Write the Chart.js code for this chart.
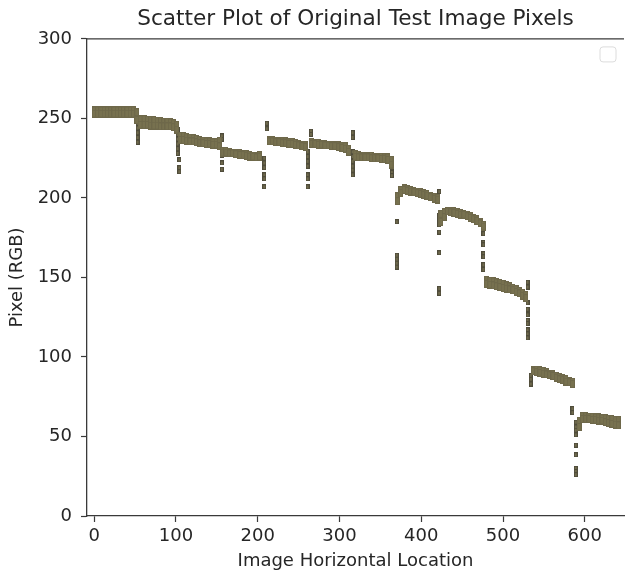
<!DOCTYPE html>
<html>
<head>
<meta charset="utf-8">
<script src="https://cdn.jsdelivr.net/npm/chart.js@4.4.1/dist/chart.umd.min.js"></script>
<style>
  html, body { margin: 0; padding: 0; background: #fff; }
  #wrap { width: 629px; height: 578px; }
</style>
</head>
<body>
<div id="wrap"><canvas id="pixelChart"></canvas></div>
<script>
// sampled image columns, with the highest and lowest pixel value seen in each column
const columns = [
    0, 4, 8, 12, 16, 20, 24, 28, 32, 36, 40, 44, 48, 52, 56, 61, 65, 69, 73, 77,
    81, 85, 89, 93, 97, 101, 105, 109, 113, 117, 121, 125, 129, 133, 137, 141, 145, 149, 153, 157,
    161, 165, 169, 173, 178, 182, 186, 190, 194, 198, 202, 206, 210, 214, 218, 222, 226, 230, 234, 238,
    242, 246, 250, 254, 258, 262, 266, 270, 274, 278, 282, 286, 290, 294, 299, 303, 307, 311, 315, 319,
    323, 327, 331, 335, 339, 343, 347, 351, 355, 359, 363, 367, 371, 375, 379, 383, 387, 391, 395, 399,
    403, 407, 411, 416, 420, 424, 428, 432, 436, 440, 444, 448, 452, 456, 460, 464, 468, 472, 476, 480,
    484, 488, 492, 496, 500, 504, 508, 512, 516, 520, 524, 528, 532, 537, 541, 545, 549, 553, 557, 561,
    565, 569, 573, 577, 581, 585, 589, 593, 597, 601, 605, 609, 613, 617, 621, 625, 629, 633, 637, 641
];

const upperValues = [
    255, 255, 255, 255, 255, 255, 255, 255, 255, 255, 255, 255, 255, 254,
    249.5, 249.5, 249, 249, 249, 248.5, 248.5, 248, 248, 247.5, 247, 246,
    239, 239, 238.5, 238, 237.5, 237, 236.5, 236, 235.5, 235.5, 235, 235, 236,
    229.5, 229.5, 229, 228.5, 228.5, 228, 227.5, 227.5, 227, 226.5, 226.5, 227,
    null, null,
    236.5, 236.5, 236, 236, 235.5, 235.5, 235, 235, 234.5, 234, 233.5, 233,
    null,
    235, 234.5, 234.5, 234, 234, 233.5, 233.5, 233, 233, 232.5, 232.5, 231,
    null,
    227.5, 227, 226.5, 226.5, 226.5, 226.5, 226, 226, 226, 225.5, 225.5, 224,
    null,
    201, 205, 206, 205.5, 205, 204.5, 204, 203.5, 203, 202.5, 201.5, 200.5, 200,
    190, 191, 192, 192, 191.5, 191, 190.5, 190, 189.5, 188.5, 187.5, 186.5, 185, 183,
    148.5, 148, 147.5, 147, 146.5, 146, 145, 144.5, 143.5, 142.5, 141.5, 140.5, 139,
    null,
    92, 92, 91.5, 91, 90.5, 89.5, 89, 88, 87.5, 86.5, 86, 85, 84.5,
    null,
    60, 63, 63, 62.5, 62.5, 62, 62, 61.5, 61.5, 61, 61, 60.5, 60.5
];

const lowerValues = [
    253, 253, 253, 253, 253, 253, 253, 253, 253, 253, 253, 253, 253, 249,
    246, 246, 246, 245.5, 245.5, 245.5, 245, 245, 245, 245, 244.5, 243,
    236.5, 236.5, 236, 235.5, 235.5, 235, 234.5, 234.5, 234, 234, 233.5, 233.5, 232.5,
    228.5, 228.5, 228, 228, 227.5, 227, 227, 226.5, 226, 226, 225.5, 226,
    null, null,
    235.5, 235.5, 235, 235, 234.5, 234.5, 234, 234, 233.5, 233, 232.5, 232,
    null,
    234, 234, 233.5, 233.5, 233, 233, 232.5, 232.5, 232, 231.5, 231, 229,
    null,
    226, 225.5, 225.5, 225.5, 225.5, 225, 225, 225, 224.5, 224.5, 224, 221,
    null,
    198, 203, 205, 204.5, 204, 203.5, 203, 202.5, 202, 201.5, 200.5, 199.5, 199,
    185, 188, 191.5, 191, 190.5, 190, 189.5, 189.5, 188.5, 187.5, 186.5, 185.5, 184, 182,
    146, 145.5, 145, 144.5, 144, 143.5, 143, 142.5, 142, 141, 140, 138.5, 137,
    null,
    91, 90.5, 90, 89.5, 89, 88.5, 88, 87, 86, 85.5, 84.5, 84, 83,
    null,
    56, 61, 61, 61, 60.5, 60.5, 60, 60, 59, 58.5, 58, 57.5, 57
];

// isolated pixels at the edges between the grey steps
const dropColumns = [53, 102, 104, 156, 208, 211, 261, 265, 316, 364, 370, 422, 476, 530, 534, 585, 589];
const dropValues = [
    [250, 247, 244, 241, 238, 235],
    [243, 240, 237, 234, 231, 228],
    [224, 219, 216.5],
    [239, 237, 230, 227, 222, 218],
    [225, 222, 219, 214.5, 212, 207],
    [247, 243.5],
    [229, 226, 223, 220, 214.5, 212, 207],
    [242, 240],
    [241, 238, 229, 226, 223, 220, 217.5, 214.5],
    [222, 219, 216, 214],
    [197.5, 185, 164, 161.5, 159, 156.5],
    [204, 189, 186, 183, 178.5, 165.5, 143, 140],
    [180, 177.5, 172, 170.5, 165, 163, 158, 155],
    [147, 144, 134, 130, 126.5, 123, 121, 117, 114.5, 112],
    [88.5, 86, 83],
    [67.5, 65],
    [59, 56, 54, 51, 44.5, 38.5, 30, 28, 26]
];

const xTicks = [0, 100, 200, 300, 400, 500, 600];
const yTicks = [0, 50, 100, 150, 200, 250, 300];

const bandPoints = [];
columns.forEach((x, i) => {
    if (upperValues[i] === null) return;
    bandPoints.push({ x: x, y: upperValues[i] });
    bandPoints.push({ x: x, y: lowerValues[i] });
});

const dropPoints = [];
dropColumns.forEach((x, i) => {
    dropValues[i].forEach(v => dropPoints.push({ x: x, y: v }));
});

// small square-ish markers like matplotlib's 's'
function markerImage(w, h, fill, edge) {
    const c = document.createElement('canvas');
    c.width = w;
    c.height = h;
    const g = c.getContext('2d');
    g.fillStyle = edge;
    g.fillRect(0, 0, w, h);
    g.fillStyle = fill;
    g.fillRect(1, 1, w - 2, h - 2);
    return c;
}

const font = { family: 'DejaVu Sans', size: 18 };
const textColor = '#262626';
const axisColor = '#3a3a3a';

const frameExtras = {
    id: 'frameExtras',
    afterDraw(chart) {
        const { ctx, chartArea: a } = chart;
        ctx.save();
        ctx.strokeStyle = axisColor;
        ctx.lineWidth = 1.3;
        ctx.beginPath();
        ctx.moveTo(a.left, a.top);
        ctx.lineTo(a.right, a.top);
        ctx.stroke();
        // empty legend frame
        ctx.strokeStyle = '#dcdcdc';
        ctx.lineWidth = 1;
        ctx.beginPath();
        ctx.roundRect(a.right - 24, a.top + 8, 16, 15, 3);
        ctx.stroke();
        ctx.restore();
    }
};

const pixelChart = new Chart(document.getElementById('pixelChart').getContext('2d'), {
    type: 'scatter',
    data: {
        datasets: [
            {
                label: 'band',
                data: bandPoints,
                pointStyle: markerImage(5, 8, '#77714f', '#6e684a'),
                pointRadius: 3
            },
            {
                label: 'drops',
                data: dropPoints,
                pointStyle: markerImage(4, 5, '#6f6a4d', '#4f4c3b'),
                pointRadius: 2
            }
        ]
    },
    options: {
        responsive: true,
        maintainAspectRatio: false,
        animation: false,
        layout: { padding: 0 },
        scales: {
            x: {
                type: 'linear',
                min: -8.85,
                max: 648,
                afterFit: s => { s.height = 62; },
                afterBuildTicks: s => { s.ticks = xTicks.map(v => ({ value: v })); },
                grid: {
                    display: true,
                    drawOnChartArea: false,
                    drawTicks: true,
                    tickLength: 6,
                    tickColor: axisColor,
                    tickWidth: 1.2
                },
                border: { display: true, color: axisColor, width: 1.3 },
                ticks: { color: textColor, font: font, padding: 4, maxRotation: 0 },
                title: {
                    display: true,
                    text: 'Image Horizontal Location',
                    color: textColor,
                    font: font,
                    padding: { top: 0, bottom: 6 }
                }
            },
            y: {
                type: 'linear',
                min: 0,
                max: 300,
                afterFit: s => { s.width = 87; },
                afterBuildTicks: s => { s.ticks = yTicks.map(v => ({ value: v })); },
                grid: {
                    display: true,
                    drawOnChartArea: false,
                    drawTicks: true,
                    tickLength: 6,
                    tickColor: axisColor,
                    tickWidth: 1.2
                },
                border: { display: true, color: axisColor, width: 1.3 },
                ticks: { color: textColor, font: font, padding: 9 },
                title: {
                    display: true,
                    text: 'Pixel (RGB)',
                    color: textColor,
                    font: font,
                    padding: { top: 7, bottom: 0 }
                }
            }
        },
        plugins: {
            legend: { display: false },
            tooltip: { enabled: false },
            title: {
                display: true,
                text: 'Scatter Plot of Original Test Image Pixels',
                color: textColor,
                fullSize: false,
                font: { family: 'DejaVu Sans', size: 21.6, weight: 'normal' },
                padding: { top: 6, bottom: 7 }
            }
        }
    },
    plugins: [frameExtras]
});
</script>
</body>
</html>
